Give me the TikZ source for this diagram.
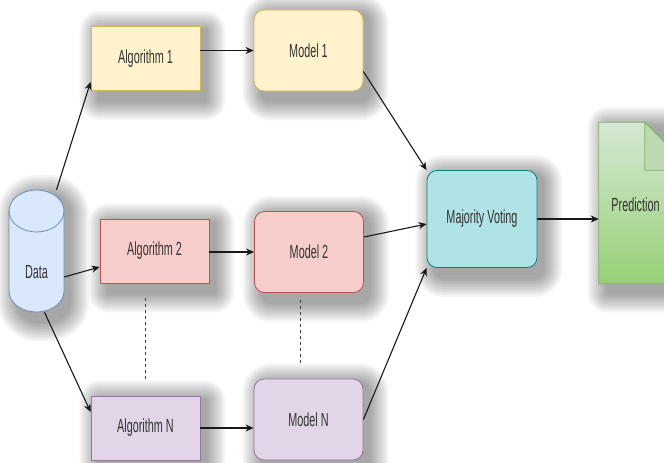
\documentclass[tikz,border=0pt]{standalone}
\usepackage{fontspec}
\setmainfont{Liberation Sans}[FakeStretch=0.57]
\usetikzlibrary{arrows.meta,calc}

\definecolor{txt}{HTML}{333333}
\definecolor{yfill}{HTML}{FFF2CC}\definecolor{yline}{HTML}{D6B656}
\definecolor{rfill}{HTML}{F8CECC}\definecolor{rline}{HTML}{B85450}
\definecolor{pfill}{HTML}{E1D5E7}\definecolor{pline}{HTML}{9673A6}
\definecolor{bfill}{HTML}{DAE8FC}\definecolor{bline}{HTML}{6C8EBF}
\definecolor{cfill}{HTML}{B0E3E6}\definecolor{cline}{HTML}{0E8088}
\definecolor{gtop}{HTML}{D5E8D4}\definecolor{gbot}{HTML}{97D077}
\definecolor{gline}{HTML}{82B366}\definecolor{gfold}{HTML}{BCD9B2}

\pgfdeclarelayer{back}
\pgfdeclarelayer{shade}
\pgfsetlayers{back,shade,main}

% soft drop shadow: stacked translucent rounded rectangles behind a node
\newcommand{\haze}[2]{%
  \foreach \r in {0,2,...,18} {%
    \fill[black,opacity=0.04,rounded corners={(#2+\r)*1pt}]
      ($(#1.north west)+(7-\r,3-\r)$) rectangle ($(#1.south east)+(7+\r,11+\r)$);
  }%
}

\begin{document}
\begin{tikzpicture}[x=1pt,y=-1pt,
  lbl/.style={font=\fontsize{19}{22}\selectfont,text=txt,inner sep=0pt},
  box/.style={lbl,draw,line width=0.8pt},
  algbox/.style={box,minimum width=109pt,minimum height=64pt},
  modbox/.style={box,rounded corners=10pt,minimum width=109pt,minimum height=81pt},
  yel/.style={fill=yfill,draw=yline},
  red/.style={fill=rfill,draw=rline},
  pur/.style={fill=pfill,draw=pline},
  conn/.style={draw=black!90,line width=1.1pt,
      -{Stealth[length=8pt,width=7pt,inset=2.5pt]}},
  dots/.style={draw=black!75,line width=1pt,dash pattern=on 3pt off 3pt}]

\useasboundingbox (0,0) rectangle (664,463);
\begin{pgfonlayer}{back}
  \fill[white] (0,0) rectangle (664,463);
\end{pgfonlayer}

% data store (cylinder)
\node[minimum width=55pt,minimum height=122pt,inner sep=0pt] (data) at (36.5,251) {};
\path[fill=bfill,draw=bline,line width=0.8pt]
  (9,211) -- (9,291)
  arc[start angle=180,end angle=360,x radius=27.5pt,y radius=21pt]
  -- (64,211)
  arc[start angle=0,end angle=180,x radius=27.5pt,y radius=21pt] -- cycle;
\draw[bline,line width=0.8pt]
  (9,211) arc[start angle=180,end angle=360,x radius=27.5pt,y radius=21pt];
\node[lbl] (datalabel) at (36.5,272) {Data};

% learners and trained models
\node[algbox,yel] (alg1) at (145.5,58.5) {Algorithm 1};
\node[modbox,yel] (mod1) at (308.5,50.5) {Model 1};
\node[algbox,red] (alg2) at (154.5,251) {Algorithm 2};
\node[modbox,red] (mod2) at (309,252) {Model 2};
\node[algbox,pur] (algN) at (145.5,428) {Algorithm N};
\node[modbox,pur] (modN) at (308.5,419.5) {Model N};

% vote
\node[box,rounded corners=10pt,fill=cfill,draw=cline,
      minimum width=110pt,minimum height=97pt] (mv) at (482,219) {Majority Voting};

% output document with folded corner
\node[minimum width=94pt,minimum height=161pt,inner sep=0pt] (pred) at (646,203) {};
\path[top color=gtop,bottom color=gbot,draw=gline,line width=0.8pt]
  (pred.north west) -- ++(46,0) -- ++(48,48) |- (pred.south west) -- cycle;
\path[fill=gfold,draw=gline,line width=0.8pt]
  ($(pred.north west)+(46,0)$) -- ++(0,48) -- ++(48,0) -- cycle;
\node[lbl] (predlabel) at (635.5,205) {Prediction};

% shadows
\begin{pgfonlayer}{shade}
  \haze{data}{22}
  \haze{alg1}{2}
  \haze{mod1}{10}
  \haze{alg2}{2}
  \haze{mod2}{10}
  \haze{algN}{2}
  \haze{modN}{10}
  \haze{mv}{10}
  \haze{pred}{2}
\end{pgfonlayer}

% ellipsis between rows
\coordinate (dA1) at (145,298);
\coordinate (dA2) at (145,380);
\coordinate (dM1) at (300,300);
\coordinate (dM2) at (300,365);
\path[dots] (dA1) -- (dA2);
\path[dots] (dM1) -- (dM2);

% connectors
\path[conn] ([xshift=20pt]data.north) -- ([yshift=9pt]alg1.south west);
\path[conn] ([yshift=-26pt]data.east) -- ([yshift=-16pt]alg2.west);
\path[conn] ([xshift=8pt]data.south) -- ([yshift=16pt]algN.west);

\path[conn] (alg1.east |- mod1.west) -- (mod1.west);
\path[conn] (alg2.east |- mod2.west) -- (mod2.west);
\path[conn] (algN.east) -- (algN.east -| modN.west);

\path[conn] ([yshift=-21pt]mod1.east) -- (mv.north west);
\path[conn] ([yshift=15pt]mod2.east) -- ([yshift=-5pt]mv.west);
\path[conn] (modN.east) -- (mv.south west);

\path[conn] (mv.east) -- (mv.east -| pred.west);
\end{tikzpicture}
\end{document}
